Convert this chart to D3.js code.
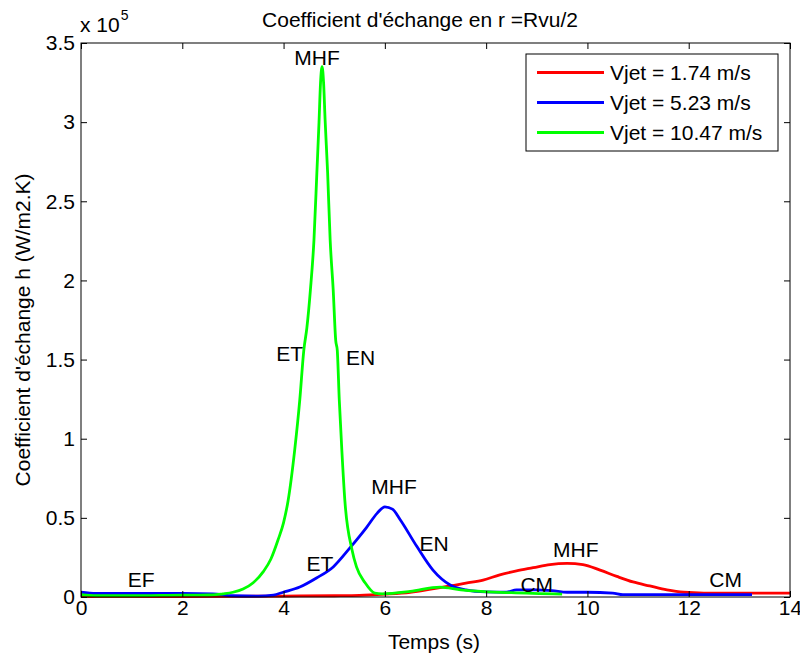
<!DOCTYPE html>
<html><head><meta charset="utf-8">
<script src="https://cdn.jsdelivr.net/npm/d3@7"></script>
<style>body{margin:0;background:#fff}svg{display:block}text{font-family:"Liberation Sans",Arial,sans-serif;fill:#000}</style>
</head><body><svg id="c" width="800" height="659"></svg>
<script>
const seriesNames = ["Vjet = 1.74 m/s","Vjet = 5.23 m/s","Vjet = 10.47 m/s"];
const seriesColors = ["#ff0000","#0000ff","#00ff00"];
const redT = [0,2,3,4,5,5.5,6,6.5,7,7.29,7.6,7.94,8.27,8.6,8.93,9.26,9.6,9.91,10.25,10.58,10.9,11.23,11.57,11.9,12.3,13,14];
const redV = [0.003,0.003,0.004,0.006,0.008,0.01,0.018,0.03,0.055,0.07,0.088,0.107,0.14,0.165,0.185,0.205,0.212,0.205,0.17,0.13,0.095,0.07,0.045,0.03,0.025,0.025,0.025];
const blueT = [0,0.3,1,2,2.6,3.0,3.5,3.8,3.99,4.32,4.65,4.98,5.31,5.64,5.85,6.0,6.15,6.30,6.63,6.95,7.29,7.6,8.0,8.4,8.6,9.0,9.3,9.6,10.0,10.5,10.7,11.5,12.5,13.25];
const blueV = [0.03,0.022,0.022,0.022,0.02,0.008,0.006,0.012,0.03,0.063,0.12,0.19,0.31,0.44,0.53,0.57,0.555,0.49,0.32,0.17,0.076,0.045,0.032,0.03,0.045,0.045,0.04,0.03,0.03,0.025,0.015,0.015,0.015,0.015];
const greenT = [0,0.3,1,2,2.6,2.8,3.0,3.2,3.4,3.6,3.75,3.89,4.0,4.09,4.22,4.32,4.40,4.46,4.53,4.60,4.66,4.70,4.73,4.76,4.79,4.82,4.87,4.92,4.98,5.03,5.06,5.10,5.15,5.21,5.35,5.44,5.61,5.80,5.95,6.5,7.09,7.5,8.5,9.5];
const greenV = [0.015,0.008,0.008,0.012,0.013,0.02,0.03,0.05,0.09,0.16,0.24,0.36,0.47,0.61,0.93,1.245,1.56,1.70,1.94,2.255,2.7,3.0,3.25,3.35,3.25,3.015,2.68,2.255,1.94,1.62,1.56,1.245,0.93,0.61,0.30,0.19,0.09,0.025,0.02,0.035,0.063,0.045,0.027,0.018];
const xTicks = [0,2,4,6,8,10,12,14];
const yTicks = [0,0.5,1,1.5,2,2.5,3,3.5];
const yTickLabels = ["0","0.5","1","1.5","2","2.5","3","3.5"];
const annotations = [
 {t:"MHF",x:4.66,y:3.41},{t:"ET",x:4.12,y:1.535},{t:"EN",x:5.52,y:1.513},
 {t:"MHF",x:6.18,y:0.70},{t:"ET",x:4.72,y:0.21},{t:"EN",x:6.97,y:0.338},
 {t:"EF",x:1.19,y:0.11},{t:"MHF",x:9.77,y:0.30},{t:"CM",x:9.0,y:0.079},{t:"CM",x:12.73,y:0.11}
];

const L=81,R=790,T=43,B=597;
const svg=d3.select("#c");
const x=d3.scaleLinear().domain([0,14]).range([L,R]);
const y=d3.scaleLinear().domain([0,3.5]).range([B,T]);
const g=svg.append("g");
const data=[redT.map((t,i)=>[t,redV[i]]),blueT.map((t,i)=>[t,blueV[i]]),greenT.map((t,i)=>[t,greenV[i]])];
const line=d3.line().x(d=>x(d[0])).y(d=>y(d[1])).curve(d3.curveMonotoneX);
data.forEach((d,i)=>g.append("path").attr("d",line(d)).attr("fill","none").attr("stroke",seriesColors[i]).attr("stroke-width",2.8).attr("stroke-linejoin","round"));

// box + ticks
g.append("rect").attr("x",L).attr("y",T).attr("width",R-L).attr("height",B-T).attr("fill","none").attr("stroke","#000").attr("stroke-width",1);
const fs=21;
const xb=svg.append("g").attr("transform",`translate(0,${B})`).call(d3.axisBottom(x).tickValues(xTicks).tickSizeInner(-6).tickSizeOuter(0).tickPadding(3).tickFormat(d3.format("d")));
const xt=svg.append("g").attr("transform",`translate(0,${T})`).call(d3.axisTop(x).tickValues(xTicks).tickSizeInner(-6).tickSizeOuter(0).tickFormat(""));
const yl=svg.append("g").attr("transform",`translate(${L},0)`).call(d3.axisLeft(y).tickValues(yTicks).tickSizeInner(-6).tickSizeOuter(0).tickPadding(6).tickFormat((d,i)=>yTickLabels[i]));
const yr=svg.append("g").attr("transform",`translate(${R},0)`).call(d3.axisRight(y).tickValues(yTicks).tickSizeInner(-6).tickSizeOuter(0).tickFormat(""));
[xb,xt,yl,yr].forEach(a=>{a.select(".domain").remove();a.selectAll("text").attr("font-size",fs).attr("font-family","Liberation Sans, Arial, sans-serif").attr("fill","#000");a.selectAll("line").attr("stroke","#000");});

// annotations
annotations.forEach(a=>svg.append("text").attr("x",x(a.x)).attr("y",y(a.y)).attr("text-anchor","middle").attr("dy","0.35em").attr("font-size",fs).text(a.t));

// title, labels
svg.append("text").attr("x",420).attr("y",27).attr("text-anchor","middle").attr("font-size",fs).text("Coefficient d'échange en r =Rvu/2");
const ex=svg.append("text").attr("x",80).attr("y",32).attr("font-size",fs);
ex.append("tspan").text("x 10");
ex.append("tspan").attr("dx",1).attr("dy",-12).attr("font-size",14).text("5");
svg.append("text").attr("x",434).attr("y",649).attr("text-anchor","middle").attr("font-size",fs).text("Temps (s)");
svg.append("text").attr("transform","translate(30,330) rotate(-90)").attr("text-anchor","middle").attr("font-size",fs).text("Coefficient d'échange h (W/m2.K)");

// legend
const lg=svg.append("g");
lg.append("rect").attr("x",526).attr("y",54).attr("width",252).attr("height",97).attr("fill","#fff").attr("stroke","#000").attr("stroke-width",1);
seriesNames.forEach((n,i)=>{
  const yy=72.5+i*30;
  lg.append("line").attr("x1",537).attr("x2",604).attr("y1",yy).attr("y2",yy).attr("stroke",seriesColors[i]).attr("stroke-width",2.8);
  lg.append("text").attr("x",610).attr("y",yy).attr("dy","0.35em").attr("font-size",fs).text(n);
});
</script></body></html>
